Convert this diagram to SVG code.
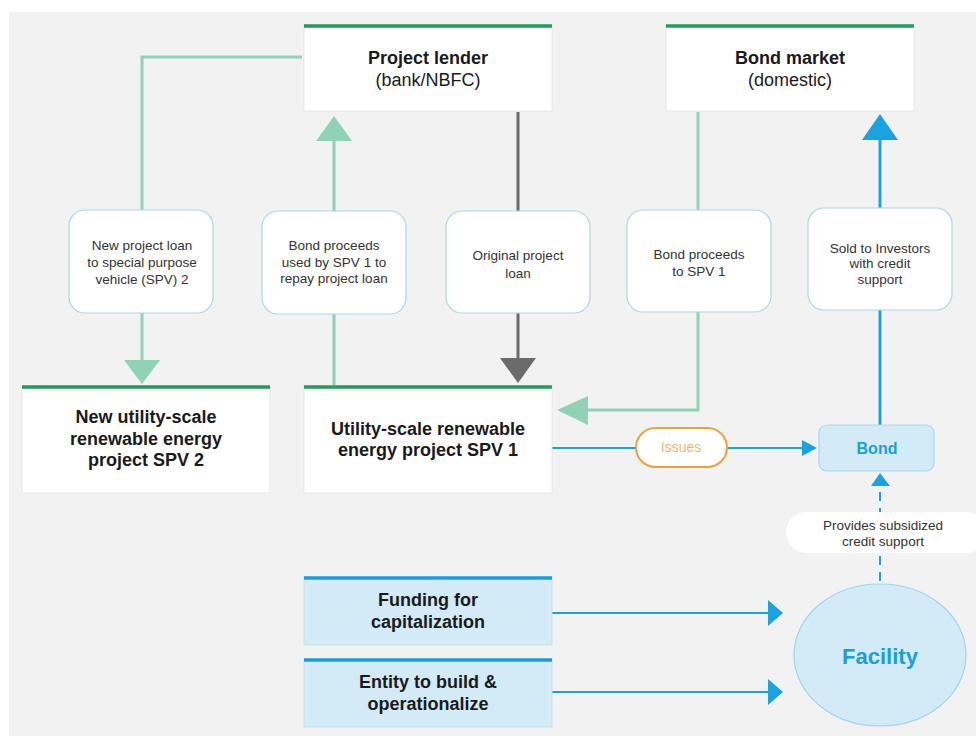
<svg xmlns="http://www.w3.org/2000/svg" width="976" height="736" viewBox="0 0 976 736">
<style>
text{font-family:"Liberation Sans",Arial,sans-serif;dominant-baseline:central;text-anchor:middle}
.title{font-size:18px;font-weight:bold;fill:#1a1a1a}
.sub{font-size:18px;fill:#1a1a1a}
.lbl{font-size:13.5px;fill:#333}
.card{fill:#fff;stroke:#e6e6e6;stroke-width:1}
.bluecard{fill:#d3ebf7;stroke:#c3e0ef;stroke-width:1}
.gtop{stroke:#1f9e5a;stroke-width:3.5}
.btop{stroke:#1a9ee0;stroke-width:3.5}
.pill{fill:#fff;stroke:#a9d7ec;stroke-width:1.2}
.g{stroke:#8fd2b5;stroke-width:3;fill:none}
.gr{stroke:#6b6b6b;stroke-width:3;fill:none}
.b{stroke:#1aa3e2;stroke-width:3;fill:none}
.bt{stroke:#1aa3e2;stroke-width:2;fill:none}
</style>
<rect x="0" y="0" width="976" height="736" fill="#fff"/>
<rect x="9" y="12" width="967" height="724" fill="#f2f2f2"/>

<g id="connectors">
  <polyline class="g" points="302,57 142,57 142,360"/>
  <polygon points="124,360 160,360 142,384" fill="#8fd2b5"/>
  <line class="g" x1="334" y1="385" x2="334" y2="140"/>
  <polygon points="316,141 352,141 334,116" fill="#8fd2b5"/>
  <line class="gr" x1="518" y1="112" x2="518" y2="360"/>
  <polygon points="500,358 536,358 518,383" fill="#6b6b6b"/>
  <polyline class="g" points="698,112 698,410 586,410"/>
  <polygon points="588,396 588,425 557,410" fill="#8fd2b5"/>
  <line class="b" x1="880" y1="425" x2="880" y2="138"/>
  <polygon points="862,140 898,140 880,114" fill="#1aa3e2"/>
  <line class="bt" x1="552" y1="448" x2="803" y2="448"/>
  <polygon points="802,440 802,456 817,448" fill="#1aa3e2"/>
  <line x1="880" y1="581" x2="880" y2="485" stroke="#1aa3e2" stroke-width="2" stroke-dasharray="9,7"/>
  <polygon points="871,486 890,486 880,473" fill="#1aa3e2"/>
  <line class="bt" x1="552" y1="613" x2="770" y2="613"/>
  <polygon points="768,600 768,626 783,613" fill="#1aa3e2"/>
  <line class="bt" x1="552" y1="692" x2="770" y2="692"/>
  <polygon points="768,679 768,705 783,692" fill="#1aa3e2"/>
</g>

<g id="project-lender">
  <rect class="card" x="304" y="25" width="248" height="86"/>
  <line class="gtop" x1="304" y1="26" x2="552" y2="26"/>
  <text class="title" x="428" y="58">Project lender</text>
  <text class="sub" x="428" y="80">(bank/NBFC)</text>
</g>

<g id="bond-market">
  <rect class="card" x="666" y="25" width="248" height="86"/>
  <line class="gtop" x1="666" y1="26" x2="914" y2="26"/>
  <text class="title" x="790" y="58">Bond market</text>
  <text class="sub" x="790" y="80">(domestic)</text>
</g>

<g id="label-new-loan">
  <rect class="pill" x="69" y="210" width="144" height="103" rx="16"/>
  <text class="lbl" x="142" y="245">New project loan</text>
  <text class="lbl" x="142" y="262">to special purpose</text>
  <text class="lbl" x="142" y="279">vehicle (SPV) 2</text>
</g>

<g id="label-repay">
  <rect class="pill" x="262" y="211" width="144" height="103" rx="16"/>
  <text class="lbl" x="334" y="245">Bond proceeds</text>
  <text class="lbl" x="334" y="262">used by SPV 1 to</text>
  <text class="lbl" x="334" y="278">repay project loan</text>
</g>

<g id="label-original">
  <rect class="pill" x="446" y="211" width="144" height="102" rx="16"/>
  <text class="lbl" x="518" y="255">Original project</text>
  <text class="lbl" x="518" y="273">loan</text>
</g>

<g id="label-proceeds">
  <rect class="pill" x="627" y="210" width="144" height="102" rx="16"/>
  <text class="lbl" x="699" y="254">Bond proceeds</text>
  <text class="lbl" x="699" y="271">to SPV 1</text>
</g>

<g id="label-sold">
  <rect class="pill" x="808" y="208" width="144" height="102" rx="16"/>
  <text class="lbl" x="880" y="248">Sold to Investors</text>
  <text class="lbl" x="880" y="263">with credit</text>
  <text class="lbl" x="880" y="279">support</text>
</g>

<g id="spv2">
  <rect class="card" x="22" y="386" width="248" height="107"/>
  <line class="gtop" x1="22" y1="387" x2="270" y2="387"/>
  <text class="title" x="146" y="417">New utility-scale</text>
  <text class="title" x="146" y="439">renewable energy</text>
  <text class="title" x="146" y="460">project SPV 2</text>
</g>

<g id="spv1">
  <rect class="card" x="304" y="386" width="248" height="107"/>
  <line class="gtop" x1="304" y1="387" x2="552" y2="387"/>
  <text class="title" x="428" y="429">Utility-scale renewable</text>
  <text class="title" x="428" y="450">energy project SPV 1</text>
</g>

<g id="issues">
  <rect x="636" y="428" width="91" height="39" rx="19.5" fill="#fff" stroke="#f0a040" stroke-width="2"/>
  <text x="681" y="447" font-size="14" fill="#f5b574">Issues</text>
</g>

<g id="bond">
  <rect x="819" y="425" width="115" height="46" rx="8" fill="#d3ebf7" stroke="#a9d7ec" stroke-width="1.2"/>
  <text x="877" y="448" font-size="16" font-weight="bold" fill="#1a9ee0">Bond</text>
</g>

<g id="label-credit">
  <rect x="786" y="512" width="200" height="41" rx="20.5" fill="#fff"/>
  <text class="lbl" x="883" y="525">Provides subsidized</text>
  <text class="lbl" x="883" y="541">credit support</text>
</g>

<g id="funding">
  <rect class="bluecard" x="304" y="577" width="248" height="68"/>
  <line class="btop" x1="304" y1="578" x2="552" y2="578"/>
  <text class="title" x="428" y="600">Funding for</text>
  <text class="title" x="428" y="622">capitalization</text>
</g>

<g id="entity">
  <rect class="bluecard" x="304" y="659" width="248" height="68"/>
  <line class="btop" x1="304" y1="660" x2="552" y2="660"/>
  <text class="title" x="428" y="682">Entity to build &amp;</text>
  <text class="title" x="428" y="704">operationalize</text>
</g>

<g id="facility">
  <ellipse cx="880" cy="655" rx="86" ry="71" fill="#d3ebf7" stroke="#9fd4ee" stroke-width="1.2"/>
  <text x="880" y="656" font-size="22" font-weight="bold" fill="#1a9ee0">Facility</text>
</g>
</svg>
